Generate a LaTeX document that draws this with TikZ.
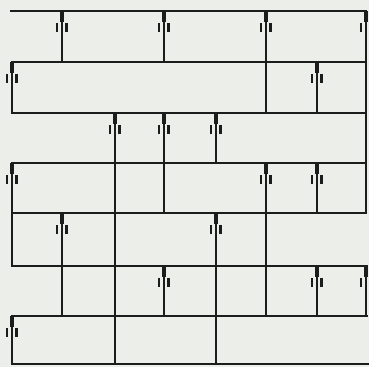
\documentclass[tikz,border=0pt]{standalone}
\begin{document}
\begin{tikzpicture}[x=1pt,y=-1pt,
  grid line/.style={line width=1.7pt, draw=inkc, line cap=rect},
  upglyph/.pic={
    \fill[inkc] (-2.3,0) rectangle (2.3,11);
    \fill[inkc] (-6,12) rectangle (-3.6,21);
    \fill[inkc] (3.4,12) rectangle (5.8,21);
  }]
\definecolor{inkc}{RGB}{28,28,28}
\definecolor{paperc}{RGB}{236,238,234}
\fill[paperc] (0,0) rectangle (369,367);
\useasboundingbox (0,0) rectangle (369,367);
% horizontal lines
\draw[grid line] (11,11) -- (366,11);
\draw[grid line] (12,62) -- (366,62);
\draw[grid line] (12,113) -- (366,113);
\draw[grid line] (12,163) -- (366,163);
\draw[grid line] (12,213) -- (366,213);
\draw[grid line] (12,266) -- (367,266);
\draw[grid line] (12,316) -- (367,316);
\draw[grid line] (12,364) -- (368,364);
% vertical lines
\draw[grid line] (12,62) -- (12,113);
\draw[grid line] (12,163) -- (12,266);
\draw[grid line] (12,316) -- (12,364);
\draw[grid line] (62,11) -- (62,62);
\draw[grid line] (62,213) -- (62,316);
\draw[grid line] (115,113) -- (115,364);
\draw[grid line] (164,11) -- (164,62);
\draw[grid line] (164,113) -- (164,213);
\draw[grid line] (164,266) -- (164,316);
\draw[grid line] (216,113) -- (216,163);
\draw[grid line] (216,213) -- (216,364);
\draw[grid line] (266,11) -- (266,113);
\draw[grid line] (266,163) -- (266,316);
\draw[grid line] (317,62) -- (317,113);
\draw[grid line] (317,163) -- (317,213);
\draw[grid line] (317,266) -- (317,316);
\draw[grid line] (366,11) -- (366,213);
\draw[grid line] (366,266) -- (366,316);
% glyphs
\foreach \gx/\gy in {62/11,164/11,266/11,366/11,12/62,317/62,115/113,164/113,216/113,12/163,266/163,317/163,62/213,216/213,164/266,317/266,366/266,12/316}
  \pic at (\gx,\gy) {upglyph};
\end{tikzpicture}
\end{document}
